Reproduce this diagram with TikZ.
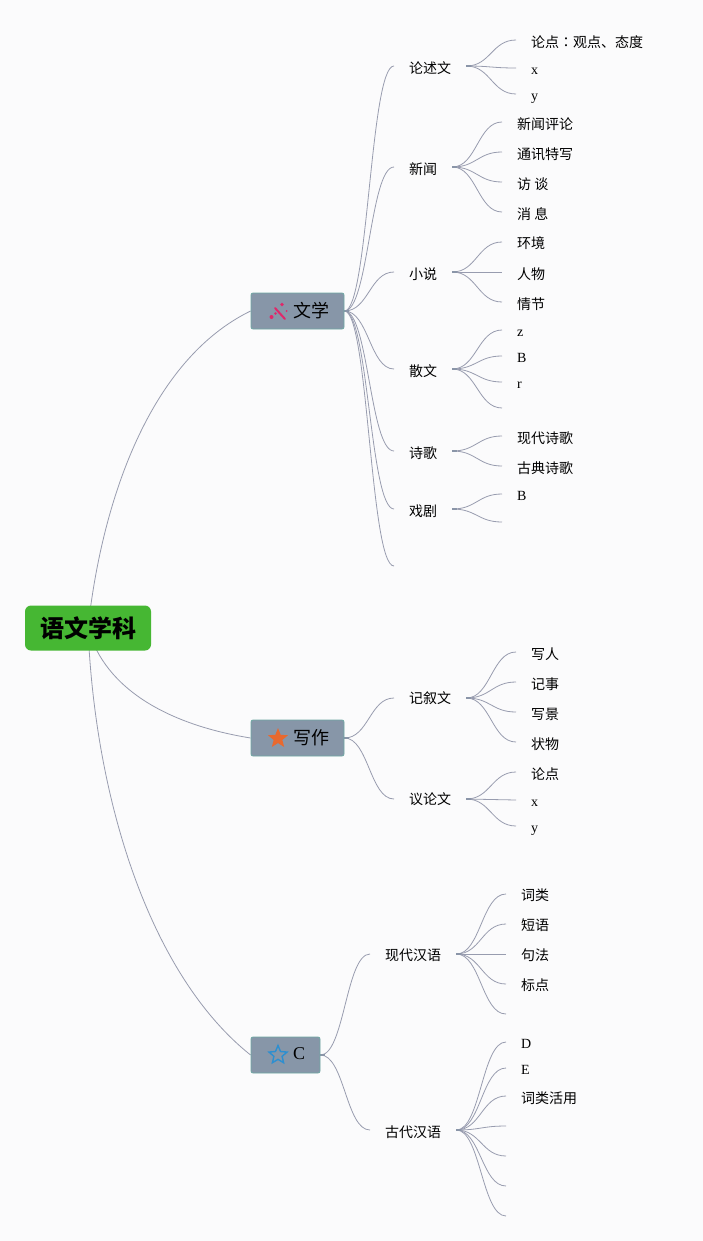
\documentclass[tikz,border=0pt]{standalone}
\usepackage{fontspec}
\setmainfont{Liberation Serif}
\newfontfamily\cjk{Noto Sans CJK SC}
\newfontfamily\cjktc{Noto Sans CJK TC}
\usetikzlibrary{backgrounds,shapes.geometric}
\definecolor{pagebg}{HTML}{FBFBFC}
\definecolor{linkc}{HTML}{989CAF}
\definecolor{stubc}{HTML}{8A95A8}
\definecolor{topicfill}{HTML}{8796A8}
\definecolor{topicedge}{HTML}{6FA8A4}
\definecolor{rootfill}{HTML}{46B733}
\definecolor{wandc}{HTML}{E0286A}
\definecolor{starorange}{HTML}{E8692F}
\definecolor{starblue}{HTML}{2D8FD0}
\tikzset{
  link/.style={draw=linkc,line width=0.8pt},
  stub/.style={draw=stubc,line width=1.6pt},
  branch/.style={out=0,in=180,distance=24},
  rootnode/.style={rectangle,rounded corners=6pt,fill=rootfill,minimum width=126,minimum height=45,inner sep=0,font=\cjk\bfseries\fontsize{24}{24}\selectfont},
  topic/.style={rectangle,rounded corners=2pt,fill=topicfill,draw=topicedge,line width=0.8pt,minimum height=36,inner xsep=0,inner ysep=0,font=\fontsize{18}{18}\selectfont},
  sub/.style={anchor=west,inner xsep=15,inner ysep=0,text height=13,text depth=1,font=\cjk\fontsize{14}{14}\selectfont},
  leaf/.style={sub},
  lat/.style={anchor=west,inner xsep=15,inner ysep=0,text height=14,text depth=2,font=\fontsize{14}{14}\selectfont},
  wand/.style={draw=wandc,line width=2pt}
}
\begin{document}
\begin{tikzpicture}[x=1pt,y=-1pt]
\useasboundingbox (0,0) rectangle (703,1241);
\begin{scope}[on background layer]
  \fill[pagebg] (0,0) rectangle (703,1241);
\end{scope}

\node[rootnode] (root) at (88,628) {\raisebox{-1.5pt}{语文学科}};
\node[topic,minimum width=93] (wenxue) at (297.5,311) {\hspace*{27pt}\raisebox{-1.5pt}{\cjk 文学}};
\node[topic,minimum width=93] (xiezuo) at (297.5,738) {\hspace*{27pt}\raisebox{-1.5pt}{\cjk 写作}};
\node[topic,minimum width=69] (cnode) at (285.5,1055) {\hspace*{27pt}\raisebox{2pt}{C}};

% icons
\draw[wand,line cap=round] (275,308) -- (285,319);
\fill[wandc] (271.5,317) circle (2);
\fill[wandc] (275.5,313.5) circle (1.4);
\fill[wandc] (282,304.5) circle (1.8);
\fill[wandc] (286.5,311) circle (1);
\node[star,star points=5,star point ratio=2.3,fill=starorange,minimum size=21,inner sep=0] (staro) at (278,738.5) {};
\node[star,star points=5,star point ratio=2.2,draw=starblue,line width=1.4pt,minimum size=19,inner sep=0] (starb) at (278,1055) {};

% second level
\node[sub,text height=16] (lunshu) at (394,66) {论述文};
\node[sub,text height=16] (xinwen) at (394,167) {新闻};
\node[sub,text height=15] (xiaoshuo) at (394,272) {小说};
\node[sub,text height=15] (sanwen) at (394,369) {散文};
\node[sub,text height=15] (shige) at (394,451) {诗歌};
\node[sub,text height=15] (xiju) at (394,509) {戏剧};
\coordinate (wempty) at (394,566);
\node[sub,text height=12] (jixu) at (394,698) {记叙文};
\node[sub,text height=12] (yilun) at (394,799) {议论文};
\node[sub] (xiandai) at (370,954) {现代汉语};
\node[sub,text height=15] (gudai) at (370,1130) {古代汉语};

% leaves
\node[leaf,text height=16] (a1) at (516,40) {论点{\cjktc ：}观点、态度};
\node[lat,text height=16] (a2) at (516,68) {x};
\node[lat,text height=16] (a3) at (516,94) {y};
\node[leaf,text height=16] (b1) at (502,122) {新闻评论};
\node[leaf,text height=16] (b2) at (502,152) {通讯特写};
\node[leaf,text height=16] (b3) at (502,182) {访 谈};
\node[leaf,text height=16] (b4) at (502,212) {消 息};
\node[leaf,text height=15] (c1) at (502,242) {环境};
\node[leaf,text height=15] (c2) at (502,272) {人物};
\node[leaf,text height=15] (c3) at (502,302) {情节};
\node[lat] (d1) at (502,330) {z};
\node[lat] (d2) at (502,356) {B};
\node[lat] (d3) at (502,382) {r};
\coordinate (d4) at (502,408);
\node[leaf,text height=15] (e1) at (502,436) {现代诗歌};
\node[leaf,text height=15] (e2) at (502,466) {古典诗歌};
\node[lat] (f1) at (502,494) {B};
\coordinate (f2) at (502,522);
\node[leaf,text height=15] (g1) at (516,652) {写人};
\node[leaf,text height=15] (g2) at (516,682) {记事};
\node[leaf,text height=15] (g3) at (516,712) {写景};
\node[leaf,text height=15] (g4) at (516,742) {状物};
\node[leaf,text height=15] (h1) at (516,772) {论点};
\node[lat] (h2) at (516,800) {x};
\node[lat] (h3) at (516,826) {y};
\node[leaf] (i1) at (506,894) {词类};
\node[leaf] (i2) at (506,924) {短语};
\node[leaf] (i3) at (506,954) {句法};
\node[leaf] (i4) at (506,984) {标点};
\coordinate (i5) at (506,1014);
\node[lat] (j1) at (506,1042) {D};
\node[lat] (j2) at (506,1068) {E};
\node[leaf,text height=15] (j3) at (506,1096) {词类活用};
\coordinate (j4) at (506,1126);
\coordinate (j5) at (506,1156);
\coordinate (j6) at (506,1186);
\coordinate (j7) at (506,1216);

\begin{scope}[on background layer]
  % root connectors
  \draw[link] (root.center) .. controls (102,500) and (150,360) .. (wenxue.west);
  \draw[link] (root.center) .. controls (105,690) and (170,725) .. (xiezuo.west);
  \draw[link] (root.center) .. controls (95,800) and (150,975) .. (cnode.west);
  % branches
  \foreach \p/\c in {
    wenxue/lunshu.west,wenxue/xinwen.west,wenxue/xiaoshuo.west,wenxue/sanwen.west,
    wenxue/shige.west,wenxue/xiju.west,wenxue/wempty,
    xiezuo/jixu.west,xiezuo/yilun.west,cnode/xiandai.west,cnode/gudai.west,
    lunshu/a1.west,lunshu/a2.west,lunshu/a3.west,
    xinwen/b1.west,xinwen/b2.west,xinwen/b3.west,xinwen/b4.west,
    xiaoshuo/c1.west,xiaoshuo/c2.west,xiaoshuo/c3.west,
    sanwen/d1.west,sanwen/d2.west,sanwen/d3.west,sanwen/d4,
    shige/e1.west,shige/e2.west,
    xiju/f1.west,xiju/f2,
    jixu/g1.west,jixu/g2.west,jixu/g3.west,jixu/g4.west,
    yilun/h1.west,yilun/h2.west,yilun/h3.west,
    xiandai/i1.west,xiandai/i2.west,xiandai/i3.west,xiandai/i4.west,xiandai/i5,
    gudai/j1.west,gudai/j2.west,gudai/j3.west,gudai/j4,gudai/j5,gudai/j6,gudai/j7}
    \draw[link] (\p.east) to[branch] (\c);
  % stubs
  \foreach \p in {wenxue,xiezuo,cnode,lunshu,xinwen,xiaoshuo,sanwen,shige,xiju,jixu,yilun,xiandai,gudai}
    \draw[stub] (\p.east) -- ++(5,0);
\end{scope}
\end{tikzpicture}
\end{document}
